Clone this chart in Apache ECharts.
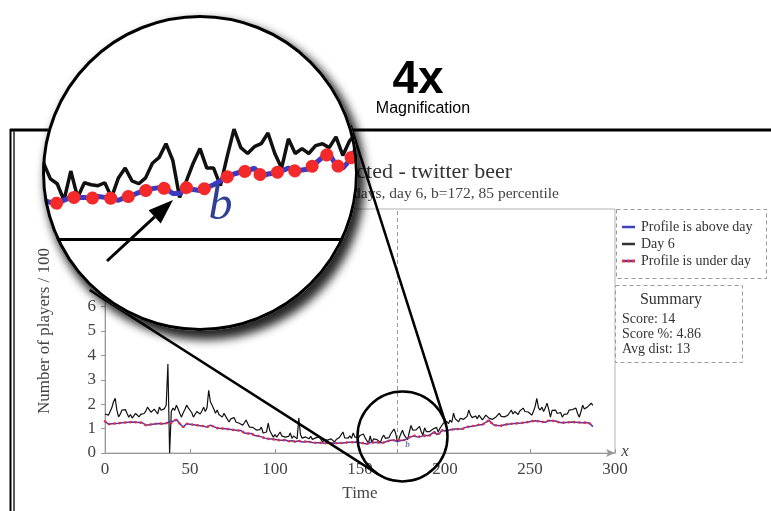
<!DOCTYPE html>
<html>
<head>
<meta charset="utf-8">
<script src="https://cdn.jsdelivr.net/npm/echarts@6/dist/echarts.min.js"></script>
<style>
  html, body { margin: 0; padding: 0; background: #fff; }
  #main { position: absolute; left: 0; top: 0; width: 771px; height: 511px; }
  #lens { position: absolute; left: 42px; top: 15px; width: 316px; height: 316px;
          border-radius: 50%; overflow: hidden; background: #fff;
          box-shadow: 5px 7px 10px 2px rgba(0,0,0,0.85); }
  #lensChart { width: 316px; height: 316px; }
  #ring { position: absolute; left: 42px; top: 15px; width: 316px; height: 316px;
          border-radius: 50%; border: 3px solid #000; box-sizing: border-box; }
</style>
</head>
<body>
<div id="main"></div>
<div id="lens"><div id="lensChart"></div></div>
<div id="ring"></div>
<script>
// Day 6 traffic (players / 100), one value per time step
const day6 = [
  1.60,1.65,1.55,1.62,1.85,2.10,2.24,1.75,1.48,1.60,
  1.76,1.70,1.78,1.62,1.47,1.58,1.43,1.50,1.62,1.55,
  1.48,1.58,1.50,1.62,1.72,1.88,1.78,1.67,1.74,1.80,
  1.70,1.60,1.88,1.75,1.67,1.82,1.96,3.65,0.00,1.70,
  1.84,1.75,1.96,1.80,1.62,1.47,1.65,1.78,1.96,1.85,
  1.78,1.66,1.47,1.55,1.70,1.64,1.60,1.72,1.88,1.70,
  1.85,2.57,2.10,1.96,1.80,1.63,1.76,1.58,1.62,1.47,
  1.63,1.50,1.42,1.27,1.40,1.35,1.45,1.27,1.33,1.22,
  1.30,1.14,1.24,1.35,1.20,1.06,1.14,1.05,1.10,0.94,
  1.02,0.96,1.06,0.82,0.90,0.86,1.22,0.90,0.82,0.65,
  0.75,0.65,0.73,0.86,0.70,0.62,0.65,0.72,0.68,0.82,
  0.60,0.70,0.65,0.58,1.43,0.75,0.61,0.55,0.66,0.61,
  0.58,0.68,0.56,0.53,0.62,0.55,0.66,0.58,0.45,0.55,
  0.60,0.53,0.48,0.58,0.50,0.45,0.55,0.52,0.65,0.58,
  0.86,0.62,0.55,0.61,0.70,0.60,0.82,0.66,0.58,0.61,
  0.72,0.65,0.78,0.62,0.57,0.40,0.70,0.43,0.58,0.56,
  0.55,0.58,0.43,0.63,0.73,0.60,0.57,0.63,0.78,0.84,
  0.98,0.81,0.43,0.60,0.78,0.93,0.73,0.73,0.55,0.85,
  1.13,0.94,0.88,0.95,0.98,1.09,0.88,0.73,1.03,0.88,
  0.93,0.88,0.96,0.98,0.94,1.05,0.86,1.01,1.08,1.22,
  1.15,1.30,1.20,1.35,1.25,1.63,1.40,1.35,1.28,1.42,
  1.47,1.38,1.30,1.50,1.76,1.55,1.45,1.43,1.52,1.40,
  1.55,1.48,1.36,1.45,1.55,1.50,1.42,1.35,1.38,1.30,
  1.48,1.55,1.63,1.50,1.42,1.48,1.43,1.55,1.65,1.76,
  1.60,1.70,1.66,1.58,1.72,1.80,1.84,1.70,1.75,1.68,
  1.63,1.55,1.70,1.90,2.24,1.85,1.76,1.88,1.70,1.85,
  2.04,1.80,1.47,1.75,1.80,1.76,1.62,1.55,1.66,1.47,
  1.58,1.65,1.60,1.76,1.70,1.78,1.72,1.84,1.62,1.47,
  1.70,1.96,1.80,1.85,1.90,1.82,2.04,1.95
];

// Predicted profile for the same time steps
const profile = [
  1.30,1.27,1.18,1.22,1.20,1.24,1.21,1.25,1.22,1.26,
  1.24,1.27,1.25,1.28,1.26,1.29,1.27,1.30,1.26,1.28,
  1.25,1.27,1.24,1.20,1.14,1.18,1.16,1.20,1.18,1.22,
  1.20,1.23,1.21,1.24,1.20,1.23,1.22,1.25,1.28,1.24,
  1.30,1.36,1.38,1.30,1.20,1.12,1.06,1.14,1.20,1.22,
  1.18,1.20,1.16,1.12,1.14,1.10,1.12,1.08,1.10,1.06,
  1.06,1.10,1.14,1.12,1.08,1.05,1.02,1.04,1.00,1.02,
  1.00,1.03,0.98,1.00,0.96,0.98,0.94,0.96,0.92,0.90,
  0.92,0.86,0.82,0.84,0.80,0.78,0.80,0.76,0.72,0.74,
  0.70,0.68,0.66,0.64,0.61,0.63,0.58,0.60,0.57,0.58,
  0.55,0.56,0.53,0.55,0.52,0.54,0.53,0.51,0.48,0.47,
  0.50,0.49,0.46,0.48,0.50,0.47,0.45,0.45,0.47,0.44,
  0.46,0.45,0.43,0.45,0.42,0.44,0.42,0.41,0.41,0.43,
  0.40,0.42,0.40,0.42,0.41,0.43,0.40,0.42,0.41,0.43,
  0.41,0.40,0.43,0.41,0.44,0.42,0.44,0.43,0.45,0.44,
  0.42,0.40,0.40,0.38,0.37,0.40,0.43,0.43,0.43,0.42,
  0.44,0.43,0.42,0.40,0.43,0.45,0.48,0.50,0.52,0.53,
  0.52,0.47,0.47,0.53,0.51,0.50,0.53,0.56,0.60,0.64,
  0.67,0.69,0.70,0.73,0.65,0.67,0.68,0.70,0.73,0.70,
  0.71,0.72,0.78,0.84,0.88,0.76,0.73,0.81,0.93,0.94,
  0.90,0.95,0.93,0.98,0.96,1.00,0.98,1.02,0.98,0.94,
  0.98,1.02,1.05,1.03,1.08,1.05,1.10,1.08,1.12,1.14,
  1.16,1.12,1.16,1.20,1.26,1.32,1.35,1.25,1.18,1.14,
  1.16,1.13,1.15,1.12,1.14,1.16,1.14,1.18,1.16,1.20,
  1.18,1.21,1.19,1.22,1.20,1.23,1.22,1.25,1.23,1.27,
  1.25,1.30,1.28,1.32,1.35,1.30,1.35,1.28,1.22,1.26,
  1.30,1.33,1.35,1.32,1.34,1.31,1.29,1.26,1.22,1.24,
  1.27,1.25,1.28,1.26,1.29,1.27,1.24,1.26,1.23,1.25,
  1.22,1.24,1.27,1.25,1.28,1.22,1.15,1.08
];

const xTicks = [0, 50, 100, 150, 200, 250, 300];
const yTicks = [0, 1, 2, 3, 4, 5, 6, 7, 8, 9, 10];
const breakTime = 172;          // b
const bLabelPos = [178, 0.34];  // where the "b" marker text sits
const lensFocus = [175, 0.68];  // centre of the magnified region (time, value)
const magnification = 4;

const legendItems = ['Profile is above day', 'Day 6', 'Profile is under day'];
const summaryLines = ['Score: 14', 'Score %: 4.86', 'Avg dist: 13'];

const SERIF = '"Liberation Serif", "DejaVu Serif", serif';
const SANS = '"Liberation Sans", Arial, sans-serif';

const day6Pts = day6.map((v, i) => [i, v]);
const profilePts = profile.map((v, i) => [i, v]);
const underPts = profile.map((v, i) => (v <= day6[i] ? [i, v] : [i, '-']));

// line widths / dot pattern for the normal and the magnified rendering
function seriesSet(big, dashed) {
  return [
    {
      type: 'line', name: 'Day 6', data: day6Pts, showSymbol: false, z: 3,
      lineStyle: { color: '#111', width: big ? 3.5 : 1.2 },
      markLine: {
        silent: true, symbol: 'none', label: { show: false },
        lineStyle: dashed,
        data: big ? [[{ coord: [breakTime, 0] }, { coord: [breakTime, 50] }]]
                  : [{ xAxis: breakTime }]
      }
    },
    {
      type: 'line', name: 'Profile is above day', data: profilePts, showSymbol: false, z: 4,
      lineStyle: { color: '#3a3ac4', width: big ? 5 : 1.5 },
      markPoint: {
        silent: true, symbol: 'circle', symbolSize: 0,
        label: {
          show: true, formatter: 'b', fontStyle: 'italic', fontFamily: SERIF,
          fontSize: big ? 48 : 9, color: '#2e3f94',
          textShadowColor: '#d8902a', textShadowOffsetX: big ? -1.5 : 0
        },
        data: [{ coord: bLabelPos }]
      }
    },
    {
      type: 'line', name: 'Profile is under day', data: underPts, showSymbol: false, z: 5,
      lineStyle: { color: '#f42a2a', width: big ? 13 : 2.6,
                   type: big ? [0.1, 18.5] : [0.1, 5.2], cap: 'round' }
    }
  ];
}

// ---------- main chart ----------
const main = echarts.init(document.getElementById('main'));
main.setOption({
  animation: false,
  textStyle: { fontFamily: SERIF },
  grid: { left: 105, right: 156, top: 209, bottom: 58, show: true, borderColor: '#b5b5b5', borderWidth: 1 },
  xAxis: {
    type: 'value', min: xTicks[0], max: xTicks[xTicks.length - 1], interval: 50,
    name: 'Time', nameLocation: 'middle', nameGap: 32,
    nameTextStyle: { fontFamily: SERIF, fontSize: 17, color: '#444' },
    axisLine: { lineStyle: { color: '#999' }, symbol: ['none', 'arrow'], symbolSize: [6, 9] },
    axisTick: { inside: true, length: 4, lineStyle: { color: '#999' } },
    axisLabel: { fontFamily: SERIF, fontSize: 17, color: '#444', margin: 8 },
    splitLine: { show: false }
  },
  yAxis: {
    type: 'value', min: yTicks[0], max: yTicks[yTicks.length - 1], interval: 1,
    name: 'Number of players / 100', nameLocation: 'middle', nameGap: 52,
    nameTextStyle: { fontFamily: SERIF, fontSize: 17, color: '#444' },
    axisLine: { show: true, lineStyle: { color: '#999' } },
    axisTick: { show: true, length: 4, lineStyle: { color: '#999' } },
    axisLabel: { fontFamily: SERIF, fontSize: 17, color: '#444', margin: 9 },
    splitLine: { show: false }
  },
  series: seriesSet(false, { color: '#9a9a9a', width: 1, type: [4, 3] })
});

// geometry of the two lens circles
const bigC = [42 + 158, 15 + 158], bigR = 158;
const smallC = main.convertToPixel({ gridIndex: 0 }, lensFocus);
const smallR = 45;

function tangents(c1, r1, c2, r2) {
  const dx = c2[0] - c1[0], dy = c2[1] - c1[1];
  const L = Math.hypot(dx, dy);
  const th = Math.atan2(dy, dx), al = Math.acos((r1 - r2) / L);
  return [1, -1].map(s => {
    const p = th + s * al;
    return [c1[0] + r1 * Math.cos(p), c1[1] + r1 * Math.sin(p),
            c2[0] + r2 * Math.cos(p), c2[1] + r2 * Math.sin(p)];
  });
}

const g = [];
const Z = 100;
function txt(text, x, y, font, fill, align, vAlign) {
  g.push({ type: 'text', z: Z, style: { text, x, y, font, fill: fill || '#333',
    textAlign: align || 'left', align: align || 'left',
    textVerticalAlign: vAlign || 'middle', verticalAlign: vAlign || 'middle' } });
}
function seg(x1, y1, x2, y2, stroke, w, dash) {
  g.push({ type: 'line', z: Z, shape: { x1, y1, x2, y2 },
    style: { stroke, lineWidth: w, lineDash: dash || null } });
}

// page frame
seg(10, 130, 771, 130, '#000', 3);
seg(10.5, 129, 10.5, 511, '#000', 2);
seg(14, 131, 14, 511, '#222', 1.5);

// titles
txt('Profile predicted - twitter beer', 512, 172, '22px ' + SERIF, '#333', 'right');
txt('Profile of 14 days, day 6, b=172, 85 percentile', 559, 194, '15.5px ' + SERIF, '#444', 'right');

// x axis symbol
txt('x', 625, 452, 'italic 17px ' + SERIF, '#444', 'center');

// legend box
g.push({ type: 'rect', z: Z, shape: { x: 616.5, y: 209.5, width: 150, height: 69 },
  style: { fill: '#fff', stroke: '#9a9a9a', lineWidth: 1, lineDash: [4, 3] } });
seg(622, 227, 635, 227, '#4040c0', 2.5);
seg(622, 244, 635, 244, '#333', 2.5);
seg(622, 261, 635, 261, '#4040c0', 2.5);
seg(622, 261, 635, 261, '#f42a2a', 2.5, [3, 2]);
legendItems.forEach((t, i) => txt(t, 641, 227 + i * 17, '14px ' + SERIF, '#333'));

// summary box
g.push({ type: 'rect', z: Z, shape: { x: 615.5, y: 285.5, width: 127, height: 77 },
  style: { fill: '#fff', stroke: '#9a9a9a', lineWidth: 1, lineDash: [4, 3] } });
txt('Summary', 671, 300, '16px ' + SERIF, '#333', 'center');
summaryLines.forEach((t, i) => txt(t, 622, 319 + i * 15, '14px ' + SERIF, '#333'));

// magnification callout
txt('4x', 418, 80, 'bold 46px ' + SANS, '#000', 'center');
txt('Magnification', 423, 109, '16px ' + SANS, '#000', 'center');
tangents(bigC, bigR, smallC, smallR).forEach((t, i) => {
  // the lower connector runs on a little past its touching point
  const ext = i === 0 ? 30 : 0;
  const dx = t[2] - t[0], dy = t[3] - t[1], l = Math.hypot(dx, dy);
  seg(t[0] - ext * dx / l, t[1] - ext * dy / l, t[2], t[3], '#000', 2.5);
});
g.push({ type: 'circle', z: Z, shape: { cx: smallC[0], cy: smallC[1], r: smallR },
  style: { fill: 'none', stroke: '#000', lineWidth: 2.5 } });

main.setOption({ graphic: { elements: g } });

// ---------- magnified view ----------
const o = main.convertToPixel({ gridIndex: 0 }, [0, 0]);
const e = main.convertToPixel({ gridIndex: 0 }, [100, 10]);
const pxT = (e[0] - o[0]) / 100 * magnification;
const pxV = (o[1] - e[1]) / 10 * magnification;

const lens = echarts.init(document.getElementById('lensChart'));
lens.setOption({
  animation: false,
  grid: { left: 0, right: 0, top: 0, bottom: 0 },
  xAxis: {
    type: 'value', min: lensFocus[0] - bigR / pxT, max: lensFocus[0] + bigR / pxT,
    axisLine: { onZero: true, lineStyle: { color: '#000', width: 3 } },
    axisTick: { show: false }, axisLabel: { show: false }, splitLine: { show: false }
  },
  yAxis: {
    type: 'value', min: lensFocus[1] - bigR / pxV, max: lensFocus[1] + bigR / pxV,
    axisLine: { show: false }, axisTick: { show: false }, axisLabel: { show: false }, splitLine: { show: false }
  },
  series: seriesSet(true, { color: '#000', width: 3, type: [20, 11] })
});

// arrow pointing at the break point
const tip = [131, 185], tail = [65, 246];
const ux = tip[0] - tail[0], uy = tip[1] - tail[1], ul = Math.hypot(ux, uy);
const u = [ux / ul, uy / ul], n = [-u[1], u[0]];
const base = [tip[0] - 25 * u[0], tip[1] - 25 * u[1]];
lens.setOption({ graphic: { elements: [
  { type: 'line', z: 100, shape: { x1: tail[0], y1: tail[1], x2: base[0], y2: base[1] },
    style: { stroke: '#000', lineWidth: 3 } },
  { type: 'polygon', z: 100, shape: { points: [tip,
      [base[0] + 9 * n[0], base[1] + 9 * n[1]], [base[0] - 9 * n[0], base[1] - 9 * n[1]]] },
    style: { fill: '#000' } }
] } });
</script>
</body>
</html>
